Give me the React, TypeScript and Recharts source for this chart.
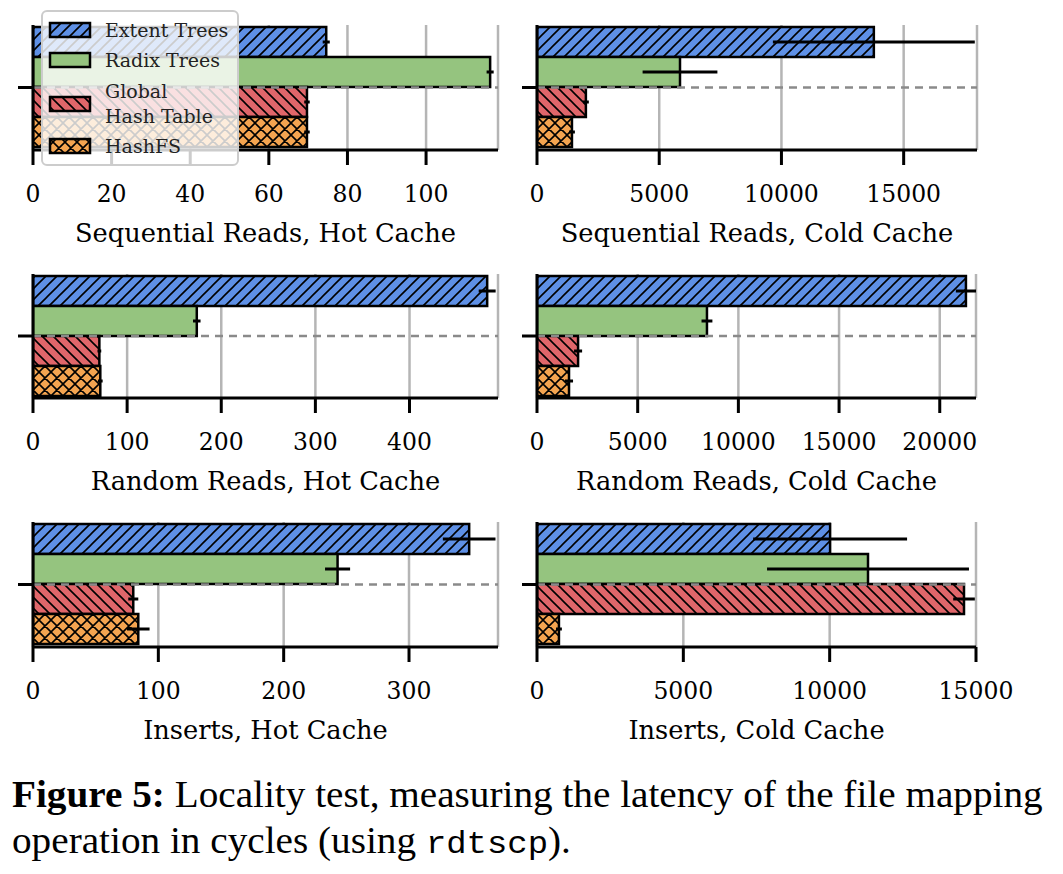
import React from 'react';
import { BarChart, Bar, XAxis, YAxis, CartesianGrid, ErrorBar, ReferenceLine, Legend } from 'recharts';

// ---------- data ----------
const seriesNames = ['Extent Trees', 'Radix Trees', 'Global\nHash Table', 'HashFS'];
const panelTitles = [
  'Sequential Reads, Hot Cache',
  'Sequential Reads, Cold Cache',
  'Random Reads, Hot Cache',
  'Random Reads, Cold Cache',
  'Inserts, Hot Cache',
  'Inserts, Cold Cache',
];
const extentTrees = [74.6, 13780, 482.5, 21300, 348, 10015];
const extentTreesErr = [0.9, 4130, 9, 500, 21, 2630];
const radixTrees = [116.3, 5850, 174, 8440, 243, 11310];
const radixTreesErr = [0.9, 1530, 4, 270, 10, 3450];
const globalHashTable = [69.7, 2000, 70.5, 2040, 80, 14590];
const globalHashTableErr = [0.7, 120, 2, 200, 4, 370];
const hashFS = [69.7, 1430, 71.5, 1590, 84, 750];
const hashFSErr = [0.7, 120, 2.5, 200, 9, 100];
const xMax = [118.3, 18000, 494, 21800, 371, 15000];
const xTicks = [
  [0, 20, 40, 60, 80, 100],
  [0, 5000, 10000, 15000],
  [0, 100, 200, 300, 400],
  [0, 5000, 10000, 15000, 20000],
  [0, 100, 200, 300],
  [0, 5000, 10000, 15000],
];

// ---------- styles ----------
const fills = ['url(#hatchBlue)', '#95c47f', 'url(#hatchRed)', 'url(#hatchOrange)'];
const FONT = '"DejaVu Serif", serif';
const panelRects = [
  { x: 33, y: 25, w: 465, h: 125 },
  { x: 537, y: 25, w: 440, h: 125 },
  { x: 33, y: 274, w: 465, h: 124 },
  { x: 537, y: 274, w: 439, h: 124 },
  { x: 33, y: 522, w: 465, h: 125 },
  { x: 537, y: 522, w: 439, h: 125 },
];

function Patterns() {
  const d = 11;
  const fwd = `M0,${d} L${d},0 M${-d / 2},${d / 2} L${d / 2},${-d / 2} M${d / 2},${d * 1.5} L${d * 1.5},${d / 2}`;
  const bwd = `M0,0 L${d},${d} M${-d / 2},${d / 2} L${d / 2},${d * 1.5} M${d / 2},${-d / 2} L${d * 1.5},${d / 2}`;
  return (
    <svg width={0} height={0} style={{ position: 'absolute' }}>
      <defs>
        <pattern id="hatchBlue" patternUnits="userSpaceOnUse" width={d} height={d}>
          <rect width={d} height={d} fill="#5e90e6" />
          <path d={fwd} stroke="#000" strokeWidth={1.6} />
        </pattern>
        <pattern id="hatchRed" patternUnits="userSpaceOnUse" width={d} height={d}>
          <rect width={d} height={d} fill="#e0666a" />
          <path d={bwd} stroke="#000" strokeWidth={1.6} />
        </pattern>
        <pattern id="hatchOrange" patternUnits="userSpaceOnUse" width={d + 1} height={d + 1}>
          <rect width={d + 1} height={d + 1} fill="#f4a450" />
          <path
            d={`M0,${d + 1} L${d + 1},0 M0,0 L${d + 1},${d + 1} M-2,2 L2,-2 M${d - 1},${d + 3} L${d + 3},${d - 1} M-2,${d - 1} L2,${d + 3} M${d - 1},-2 L${d + 3},2`}
            stroke="#000"
            strokeWidth={1.6}
          />
        </pattern>
      </defs>
    </svg>
  );
}

function LegendBox(props: any) {
  const payload = props.payload || [];
  const rows = [20, 50, 94, 136];
  return (
    <svg width={198} height={156} style={{ display: 'block', overflow: 'visible' }}>
      <rect x={1} y={1} width={196} height={154} rx={5} fill="rgba(255,255,255,0.8)" stroke="#cccccc" strokeWidth={2} />
      {payload.map((entry: any, k: number) => {
        const i = seriesNames.indexOf(String(entry.value));
        const idx = i >= 0 ? i : k;
        const cy = rows[idx];
        const lines = String(entry.value).split('\n');
        return (
          <g key={k}>
            <rect x={9} y={cy - 7} width={40} height={14} fill={fills[idx]} stroke="#000" strokeWidth={2.5} />
            {lines.map((ln, j) => (
              <text
                key={j}
                x={64}
                y={cy + (j - (lines.length - 1) / 2) * 25}
                dy="0.35em"
                fontFamily={FONT}
                fontSize={19}
                fill="#222"
              >
                {ln}
              </text>
            ))}
          </g>
        );
      })}
    </svg>
  );
}

function Panel({ idx, showLegend }: { idx: number; showLegend?: boolean }) {
  const r = panelRects[idx];
  const ml = 30, mt = 10, mr = 45, axisH = 100;
  const data = [
    {
      name: 'c',
      et: extentTrees[idx], etErr: extentTreesErr[idx],
      rt: radixTrees[idx], rtErr: radixTreesErr[idx],
      gh: globalHashTable[idx], ghErr: globalHashTableErr[idx],
      hf: hashFS[idx], hfErr: hashFSErr[idx],
    },
  ];
  const spine = { stroke: '#000', strokeWidth: 3 };
  const keys = ['et', 'rt', 'gh', 'hf'];
  return (
    <div style={{ position: 'absolute', left: r.x - ml, top: r.y - mt }}>
      <BarChart
        width={ml + r.w + mr}
        height={mt + r.h + axisH}
        data={data}
        layout="vertical"
        margin={{ top: mt, right: mr, left: 0, bottom: 0 }}
        barGap={0}
        barCategoryGap={2}
      >
        <CartesianGrid horizontal={false} stroke="#b5b5b5" strokeWidth={2.5} />
        <XAxis
          type="number"
          domain={[0, xMax[idx]]}
          ticks={xTicks[idx]}
          interval={0}
          allowDataOverflow
          tickSize={15}
          tickMargin={20}
          height={axisH}
          axisLine={spine}
          tickLine={spine}
          tick={{ fill: '#000', fontSize: 23.5, fontFamily: FONT }}
          label={{ value: panelTitles[idx], position: 'insideBottom', offset: 8, fill: '#000', fontSize: 25.7, fontFamily: FONT }}
        />
        <XAxis xAxisId="top" orientation="top" type="number" domain={[0, xMax[idx]]} allowDataOverflow height={0} tick={false} tickLine={false} axisLine={spine} />
        <YAxis type="category" dataKey="name" width={ml} tickSize={15} tickFormatter={() => ''} axisLine={spine} tickLine={spine} />
        <YAxis yAxisId="right" orientation="right" type="category" dataKey="name" width={0} tick={false} tickLine={false} axisLine={spine} />
        {keys.map((k, i) => (
          <Bar key={k} dataKey={k} name={seriesNames[i]} fill={fills[i]} stroke="#000" strokeWidth={2.5} isAnimationActive={false}>
            <ErrorBar dataKey={k + 'Err'} direction="x" width={0} stroke="#000" strokeWidth={3} />
          </Bar>
        ))}
        <ReferenceLine y="c" stroke="#8a8a8a" strokeDasharray="8 6" strokeWidth={2.5} />
        {showLegend && (
          <Legend
            layout="vertical"
            align="center"
            verticalAlign="middle"
            itemSorter={null as any}
            content={<LegendBox />}
            wrapperStyle={{ left: 38, top: -5, width: 198, height: 156 }}
          />
        )}
      </BarChart>
    </div>
  );
}

export default function App() {
  return (
    <div style={{ position: 'absolute', left: 0, top: 0, width: 1063, height: 874, background: '#fff' }}>
      <Patterns />
      {[0, 1, 2, 3, 4, 5].map((i) => (
        <Panel key={i} idx={i} showLegend={i === 0} />
      ))}
      <div
        style={{
          position: 'absolute',
          left: 12,
          top: 772,
          fontFamily: '"Liberation Serif", "Times New Roman", serif',
          fontSize: 37,
          lineHeight: '46px',
          color: '#000',
          whiteSpace: 'nowrap',
          transform: 'scaleX(1.06)',
          transformOrigin: '0 0',
        }}
      >
        <div>
          <b>Figure 5:</b> Locality test, measuring the latency of the file mapping
        </div>
        <div>
          operation in cycles (using <span style={{ fontFamily: '"Liberation Mono", monospace', fontSize: 32 }}>rdtscp</span>).
        </div>
      </div>
    </div>
  );
}
